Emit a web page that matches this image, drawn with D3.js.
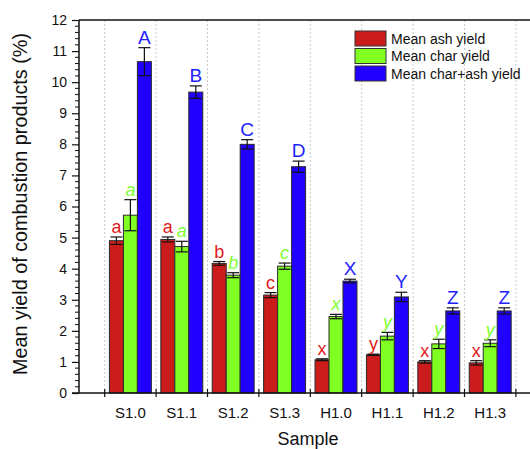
<!DOCTYPE html>
<html>
<head>
<meta charset="utf-8">
<script src="https://cdn.jsdelivr.net/npm/d3@7"></script>
<style>
  html, body { margin: 0; padding: 0; background: #fff; }
  svg { display: block; font-family: "Liberation Sans", Arial, sans-serif; }
</style>
</head>
<body>
<svg id="chart" width="530" height="449"></svg>
<script>
const categories = ["S1.0", "S1.1", "S1.2", "S1.3", "H1.0", "H1.1", "H1.2", "H1.3"];
const seriesNames = ["Mean ash yield", "Mean char yield", "Mean char+ash yield"];
const ashYield = [4.90, 4.94, 4.17, 3.15, 1.07, 1.23, 1.00, 0.97];
const ashErr   = [0.12, 0.08, 0.06, 0.08, 0.03, 0.02, 0.04, 0.07];
const charYield = [5.72, 4.71, 3.79, 4.08, 2.46, 1.83, 1.58, 1.60];
const charErr   = [0.50, 0.17, 0.08, 0.10, 0.07, 0.12, 0.15, 0.11];
const totalYield = [10.66, 9.68, 8.00, 7.28, 3.60, 3.09, 2.64, 2.64];
const totalErr   = [0.45, 0.20, 0.15, 0.18, 0.06, 0.15, 0.10, 0.10];
const ashLetters = ["a", "a", "b", "c", "x", "y", "x", "x"];
const charLetters = ["a", "a", "b", "c", "x", "y", "y", "y"];
const totalLetters = ["A", "B", "C", "D", "X", "Y", "Z", "Z"];
const yTicks = [0, 1, 2, 3, 4, 5, 6, 7, 8, 9, 10, 11, 12];

const colors = ["#cc1b1b", "#80ff22", "#2200ff"];
const labelColors = ["#e01a1a", "#80ff30", "#2222ff"];

const svg = d3.select("#chart");
const mLeft = 79, mTop = 20, mBottom = 393;
const x = d3.scaleLinear().domain([0, 9]).range([mLeft, mLeft + 9 * 51.4]);
const y = d3.scaleLinear().domain([0, 12]).range([mBottom, mTop]);

const series = [
  { vals: ashYield, errs: ashErr, letters: ashLetters, italic: false },
  { vals: charYield, errs: charErr, letters: charLetters, italic: true },
  { vals: totalYield, errs: totalErr, letters: totalLetters, italic: false }
];

// dotted vertical grid lines at category boundaries
const bounds = d3.range(0.5, 9, 1);
svg.append("g").selectAll("line").data(bounds).join("line")
  .attr("x1", d => x(d)).attr("x2", d => x(d))
  .attr("y1", mTop).attr("y2", mBottom)
  .attr("stroke", "#c8c8c8").attr("stroke-width", 1)
  .attr("stroke-dasharray", "2,2");

// bars
const barW = 0.272; // in category units
series.forEach((s, si) => {
  const g = svg.append("g");
  const off = (si - 1) * barW;
  g.selectAll("rect").data(categories).join("rect")
    .attr("x", (d, i) => x(i + 1 + off - barW / 2))
    .attr("width", x(barW) - x(0))
    .attr("y", (d, i) => y(s.vals[i]))
    .attr("height", (d, i) => y(0) - y(s.vals[i]))
    .attr("fill", colors[si])
    .attr("stroke", "#2a2a2a").attr("stroke-width", 1);
  // error bars
  const eg = svg.append("g").attr("stroke", "#111").attr("stroke-width", 1.2);
  categories.forEach((c, i) => {
    const cx = x(i + 1 + off);
    const hi = y(s.vals[i] + s.errs[i]), lo = y(s.vals[i] - s.errs[i]);
    eg.append("line").attr("x1", cx).attr("x2", cx).attr("y1", hi).attr("y2", lo);
    eg.append("line").attr("x1", cx - 6).attr("x2", cx + 6).attr("y1", hi).attr("y2", hi);
    eg.append("line").attr("x1", cx - 6).attr("x2", cx + 6).attr("y1", lo).attr("y2", lo);
  });
  // letters
  svg.append("g").selectAll("text").data(categories).join("text")
    .attr("x", (d, i) => x(i + 1 + off))
    .attr("y", (d, i) => y(s.vals[i] + s.errs[i]) - 4)
    .attr("text-anchor", "middle")
    .attr("font-size", si === 2 ? 19 : 18)
    .attr("font-style", s.italic ? "italic" : "normal")
    .attr("fill", labelColors[si])
    .text((d, i) => s.letters[i]);
});

// frame top line
svg.append("line").attr("x1", mLeft).attr("x2", 530).attr("y1", mTop).attr("y2", mTop)
  .attr("stroke", "#111").attr("stroke-width", 1.5);

// y axis
const yAxis = d3.axisLeft(y).tickValues(yTicks).tickSize(7).tickPadding(5).tickFormat(d3.format("d"));
const yg = svg.append("g").attr("transform", `translate(${mLeft},0)`).call(yAxis);
yg.select(".domain").attr("stroke", "#111").attr("stroke-width", 1.5).attr("d", `M0,${mTop}V${mBottom}`);
yg.selectAll(".tick line").attr("stroke", "#111").attr("stroke-width", 1.2);
yg.selectAll(".tick text").attr("font-size", 14).attr("fill", "#111")
  .attr("font-family", "Liberation Sans, Arial, sans-serif");
const minor = d3.range(0, 12.001, 0.2).filter(v => Math.abs(v - Math.round(v)) > 1e-6);
svg.append("g").selectAll("line").data(minor).join("line")
  .attr("x1", mLeft - 4).attr("x2", mLeft)
  .attr("y1", d => y(d)).attr("y2", d => y(d))
  .attr("stroke", "#111").attr("stroke-width", 1);

// x axis
svg.append("line").attr("x1", mLeft - 7).attr("x2", 530).attr("y1", mBottom).attr("y2", mBottom)
  .attr("stroke", "#111").attr("stroke-width", 1.5);
svg.append("g").selectAll("line").data(bounds).join("line")
  .attr("x1", d => x(d)).attr("x2", d => x(d))
  .attr("y1", mBottom - 4).attr("y2", mBottom + 4)
  .attr("stroke", "#111").attr("stroke-width", 1.2);
svg.append("g").selectAll("text").data(categories).join("text")
  .attr("x", (d, i) => x(i + 1)).attr("y", 418)
  .attr("text-anchor", "middle").attr("font-size", 15).attr("fill", "#111")
  .text(d => d);

// axis titles
svg.append("text").attr("x", 308).attr("y", 445).attr("text-anchor", "middle")
  .attr("font-size", 18).attr("fill", "#111").text("Sample");
svg.append("text").attr("transform", `translate(27,204) rotate(-90)`)
  .attr("text-anchor", "middle").attr("font-size", 19.8).attr("fill", "#111")
  .text("Mean yield of combustion products (%)");

// legend
const lg = svg.append("g").attr("transform", "translate(355,31)");
seriesNames.forEach((n, i) => {
  lg.append("rect").attr("x", 0).attr("y", i * 17.5).attr("width", 31).attr("height", 15)
    .attr("fill", colors[i]).attr("stroke", "#333").attr("stroke-width", 1);
  lg.append("text").attr("x", 36).attr("y", i * 17.5 + 12.5)
    .attr("font-size", 14).attr("fill", "#111").text(n);
});
</script>
</body>
</html>
